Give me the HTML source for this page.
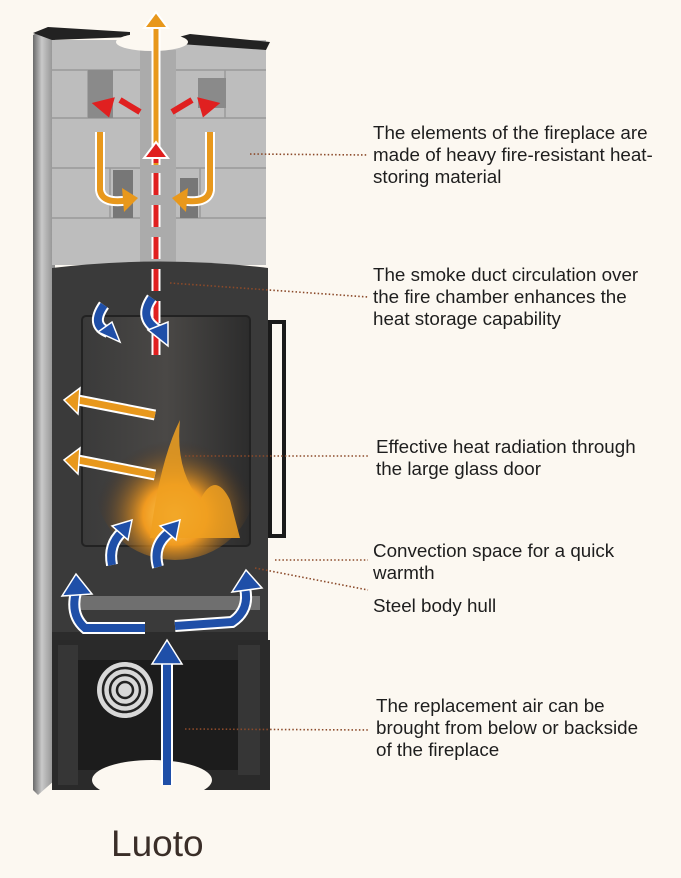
<!DOCTYPE html>
<html><head><meta charset="utf-8"><style>
html,body{margin:0;padding:0;background:#fcf8f1;}
body{width:681px;height:878px;position:relative;overflow:hidden;font-family:"Liberation Sans",sans-serif;}
.t{position:absolute;font-size:18.8px;line-height:22px;color:#1e1e1e;white-space:nowrap;}
</style></head><body>
<svg width="681" height="878" style="position:absolute;left:0;top:0">
<defs>
<linearGradient id="side" x1="0" x2="1"><stop offset="0" stop-color="#6a6a6a"/><stop offset=".4" stop-color="#c9c9c9"/><stop offset="1" stop-color="#8a8a8a"/></linearGradient>
<radialGradient id="fire" cx=".5" cy=".7" r=".5"><stop offset="0" stop-color="#ffd35a"/><stop offset=".4" stop-color="#f09a20"/><stop offset="1" stop-color="#3a2a22" stop-opacity="0"/></radialGradient>
<linearGradient id="glass" x1="0" x2="1"><stop offset="0" stop-color="#3a3a3a"/><stop offset=".5" stop-color="#4a4846"/><stop offset="1" stop-color="#2c2c2c"/></linearGradient>
</defs>
<!-- left side panel -->
<path d="M33 35 L48 27 L55 30 L55 780 L38 795 L33 790 Z" fill="url(#side)"/>
<!-- top bricks -->
<rect x="52" y="40" width="214" height="225" fill="#bdbdbd"/>
<g stroke="#9a9a9a" stroke-width="1.5" fill="none">
<line x1="52" y1="70" x2="266" y2="70"/><line x1="52" y1="118" x2="266" y2="118"/><line x1="52" y1="168" x2="266" y2="168"/><line x1="52" y1="218" x2="266" y2="218"/>
<line x1="88" y1="70" x2="88" y2="118"/><line x1="225" y1="70" x2="225" y2="118"/><line x1="110" y1="168" x2="110" y2="218"/><line x1="200" y1="168" x2="200" y2="218"/>
</g>
<rect x="88" y="70" width="25" height="48" fill="#8a8a8a"/><rect x="198" y="78" width="28" height="30" fill="#8a8a8a"/>
<rect x="113" y="170" width="20" height="48" fill="#777"/><rect x="180" y="178" width="18" height="40" fill="#777"/>
<rect x="140" y="50" width="36" height="215" fill="#ababab"/>
<path d="M33 33 L48 27 L130 32 L130 37 L52 40 Z" fill="#222"/>
<path d="M175 38 L190 34 L270 42 L266 50 L180 44 Z" fill="#222"/>
<ellipse cx="152" cy="42" rx="36" ry="9" fill="#fcf8f1"/>
<!-- dark body -->
<path d="M52 268 Q160 255 268 268 L268 640 L52 640 Z" fill="#3a3a3a"/>
<rect x="82" y="316" width="168" height="230" rx="4" fill="url(#glass)" stroke="#222" stroke-width="2"/>
<ellipse cx="175" cy="485" rx="80" ry="75" fill="url(#fire)"/>
<path d="M150 538 Q160 460 180 420 Q175 470 200 500 Q215 470 230 500 L240 538 Z" fill="#f0a020" opacity=".85"/>
<rect x="270" y="322" width="14" height="214" fill="none" stroke="#1a1a1a" stroke-width="4"/>
<!-- grate -->
<rect x="78" y="596" width="182" height="14" fill="#6f6f6f"/>
<rect x="52" y="632" width="216" height="8" fill="#2c2c2c"/>
<!-- base -->
<rect x="52" y="640" width="218" height="150" fill="#2a2a2a"/>
<rect x="78" y="660" width="160" height="110" fill="#1c1c1c"/>
<rect x="58" y="645" width="20" height="140" fill="#363636"/><rect x="238" y="645" width="22" height="130" fill="#363636"/>
<circle cx="125" cy="690" r="28" fill="#d8d8d8"/>
<g fill="none" stroke="#222" stroke-width="2.5"><circle cx="125" cy="690" r="22"/><circle cx="125" cy="690" r="15"/><circle cx="125" cy="690" r="8"/></g>
<path d="M50 780 Q60 770 95 775 L100 795 L50 795 Z" fill="#fcf8f1" opacity="0"/>
<ellipse cx="152" cy="780" rx="60" ry="20" fill="#fcf8f1"/>
<rect x="90" y="790" width="130" height="10" fill="#fcf8f1"/>

<!-- arrows -->
<g stroke-linecap="butt" fill="none">
 <path d="M156 165 L156 25" stroke="#fff" stroke-width="9"/><path d="M156 165 L156 25" stroke="#e8981c" stroke-width="5"/>
 <path d="M144 28 L156 12 L168 28 Z" fill="#e8981c" stroke="#fff" stroke-width="2"/>
 <path d="M156 355 L156 150" stroke="#fff" stroke-width="9" stroke-dasharray="22 10"/>
 <path d="M156 355 L156 150" stroke="#e02020" stroke-width="5" stroke-dasharray="22 10"/>
 <path d="M144 158 L156 142 L168 158 Z" fill="#e02020" stroke="#fff" stroke-width="2"/>
 <path d="M100 132 L100 190 Q102 205 130 200" stroke="#fff" stroke-width="10"/><path d="M100 132 L100 190 Q102 205 130 200" stroke="#e8981c" stroke-width="6"/>
 <path d="M122 188 L138 198 L124 212 Z" fill="#e8981c"/>
 <path d="M210 132 L210 190 Q208 205 180 200" stroke="#fff" stroke-width="10"/><path d="M210 132 L210 190 Q208 205 180 200" stroke="#e8981c" stroke-width="6"/>
 <path d="M188 188 L172 198 L186 212 Z" fill="#e8981c"/>
 <path d="M140 112 L120 100" stroke="#e02020" stroke-width="6"/><path d="M112 100 L96 104 L108 114 Z" fill="#e02020" stroke="#e02020" stroke-width="4"/>
 <path d="M172 112 L192 100" stroke="#e02020" stroke-width="6"/><path d="M200 100 L216 104 L204 114 Z" fill="#e02020" stroke="#e02020" stroke-width="4"/>
 <path d="M155 415 L78 400" stroke="#fff" stroke-width="11"/><path d="M155 415 L78 400" stroke="#e8981c" stroke-width="7"/>
 <path d="M80 388 L64 400 L78 414 Z" fill="#e8981c" stroke="#fff" stroke-width="1.5"/>
 <path d="M155 475 L78 460" stroke="#fff" stroke-width="11"/><path d="M155 475 L78 460" stroke="#e8981c" stroke-width="7"/>
 <path d="M80 448 L64 460 L78 474 Z" fill="#e8981c" stroke="#fff" stroke-width="1.5"/>
 <g stroke="#fff" stroke-width="12">
 <path d="M104 305 Q90 325 108 332"/><path d="M152 298 Q138 318 158 330"/>
 <path d="M112 565 Q108 545 122 532"/><path d="M158 567 Q152 545 170 532"/>
 <path d="M145 628 L85 628 Q70 615 76 592"/><path d="M175 626 L232 622 Q250 610 245 588"/>
 <path d="M167 785 L167 660"/>
 </g>
 <g stroke="#1f4fa8" stroke-width="8">
 <path d="M104 305 Q90 325 108 332"/><path d="M152 298 Q138 318 158 330"/>
 <path d="M112 565 Q108 545 122 532"/><path d="M158 567 Q152 545 170 532"/>
 <path d="M145 628 L85 628 Q70 615 76 592"/><path d="M175 626 L232 622 Q250 610 245 588"/>
 <path d="M167 785 L167 660"/>
 </g>
 <g fill="#1f4fa8" stroke="#fff" stroke-width="1.5">
 <path d="M98 332 L120 342 L112 322 Z"/><path d="M148 330 L168 346 L168 322 Z"/>
 <path d="M112 526 L132 520 L128 540 Z"/><path d="M160 526 L180 520 L176 540 Z"/>
 <path d="M62 596 L76 574 L92 594 Z"/><path d="M232 592 L246 570 L262 588 Z"/>
 <path d="M152 664 L167 640 L182 664 Z"/>
 </g>
</g>

<!-- leaders -->
<g stroke="#8b4a2a" stroke-width="1.6" stroke-dasharray="1.5 2.2" fill="none">
<line x1="250" y1="154" x2="368" y2="155"/>
<line x1="170" y1="283" x2="368" y2="297"/>
<line x1="185" y1="456" x2="370" y2="456"/>
<line x1="275" y1="560" x2="368" y2="560"/>
<line x1="255" y1="568" x2="368" y2="590"/>
<line x1="185" y1="729" x2="370" y2="730"/>
</g>
</svg>
<div class="t" style="left:373px;top:122px">The elements of the fireplace are<br>made of heavy fire-resistant heat-<br>storing material</div>
<div class="t" style="left:373px;top:264px">The smoke duct circulation over<br>the fire chamber enhances the<br>heat storage capability</div>
<div class="t" style="left:376px;top:436px">Effective heat radiation through<br>the large glass door</div>
<div class="t" style="left:373px;top:540px">Convection space for a quick<br>warmth</div>
<div class="t" style="left:373px;top:595px">Steel body hull</div>
<div class="t" style="left:376px;top:695px">The replacement air can be<br>brought from below or backside<br>of the fireplace</div>
<div class="t" style="left:111px;top:823px;font-size:37px;line-height:42px;color:#3a2e28">Luoto</div>
</body></html>
